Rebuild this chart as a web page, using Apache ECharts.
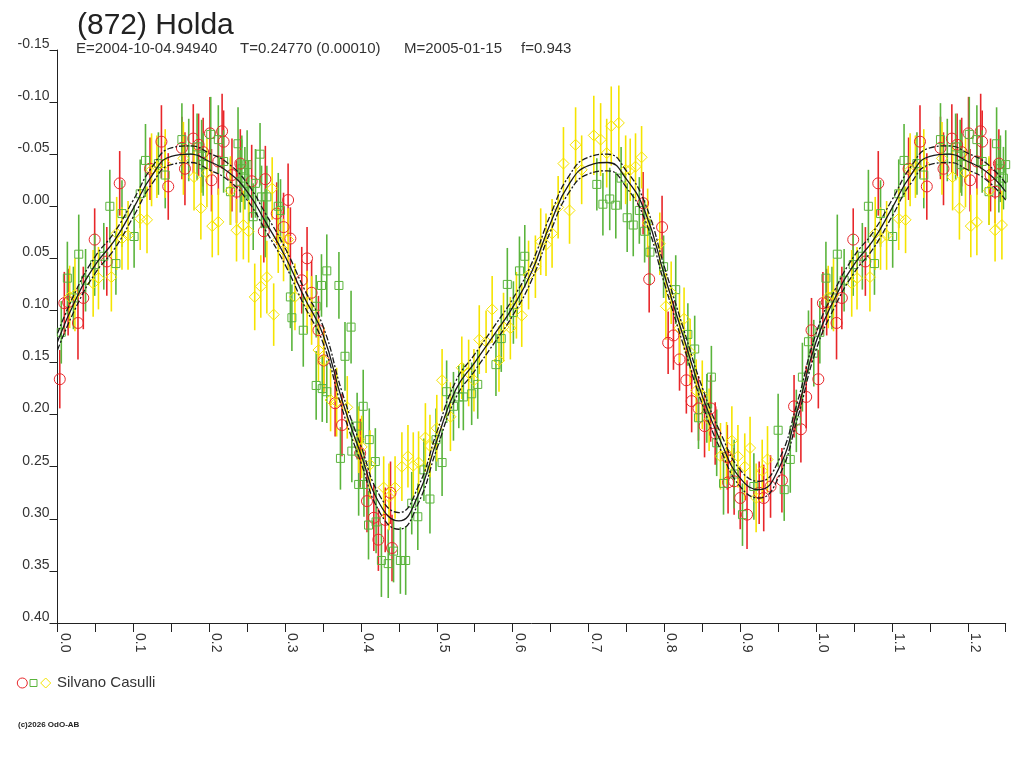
<!DOCTYPE html>
<html>
<head>
<meta charset="utf-8">
<title>(872) Holda</title>
<script src="https://cdn.jsdelivr.net/npm/echarts@6/dist/echarts.min.js"></script>
<style>
    html, body { margin: 0; padding: 0; background: #fff; }
    #main { width: 1024px; height: 768px; }
</style>
</head>
<body>
<div id="main"></div>
<script type="text/javascript">
    // observer: Silvano Casulli, three sessions [phase, mag, err]
    var redPts = [
        [0.003, 0.166, 0.028], [0.009, 0.093, 0.030], [0.014, 0.092, 0.032], [0.027, 0.112, 0.035],
        [0.034, 0.088, 0.030], [0.049, 0.032, 0.030], [0.065, 0.053, 0.033], [0.082, -0.022, 0.031],
        [0.122, -0.036, 0.030], [0.137, -0.062, 0.035], [0.146, -0.019, 0.032], [0.164, -0.056, 0.030],
        [0.168, -0.036, 0.035], [0.179, -0.065, 0.033], [0.186, -0.059, 0.030], [0.192, -0.052, 0.033],
        [0.201, -0.070, 0.035], [0.203, -0.025, 0.030], [0.212, -0.043, 0.032], [0.217, -0.072, 0.036],
        [0.219, -0.062, 0.030], [0.230, -0.030, 0.035], [0.236, -0.014, 0.030], [0.241, -0.041, 0.033],
        [0.256, -0.024, 0.035], [0.272, 0.024, 0.030], [0.274, -0.026, 0.032], [0.289, 0.007, 0.030],
        [0.298, 0.020, 0.033], [0.304, -0.006, 0.035], [0.307, 0.031, 0.030], [0.322, 0.071, 0.032],
        [0.329, 0.050, 0.030], [0.335, 0.083, 0.031], [0.344, 0.119, 0.033], [0.351, 0.148, 0.030],
        [0.366, 0.189, 0.032], [0.375, 0.210, 0.030], [0.399, 0.237, 0.033], [0.408, 0.283, 0.030],
        [0.417, 0.299, 0.032], [0.423, 0.320, 0.030], [0.432, 0.301, 0.031], [0.439, 0.275, 0.030],
        [0.441, 0.328, 0.032],
        [0.772, -0.003, 0.030], [0.780, 0.070, 0.032], [0.797, 0.020, 0.030], [0.805, 0.131, 0.030],
        [0.812, 0.124, 0.033], [0.820, 0.147, 0.030], [0.829, 0.167, 0.032], [0.836, 0.187, 0.030],
        [0.845, 0.194, 0.031], [0.853, 0.211, 0.030], [0.861, 0.194, 0.032], [0.867, 0.218, 0.030],
        [0.883, 0.241, 0.031], [0.884, 0.265, 0.030], [0.892, 0.264, 0.032], [0.900, 0.280, 0.030],
        [0.909, 0.296, 0.033], [0.925, 0.275, 0.030], [0.931, 0.280, 0.032], [0.940, 0.269, 0.030],
        [0.955, 0.263, 0.031], [0.971, 0.192, 0.030], [0.980, 0.214, 0.032], [0.987, 0.183, 0.030],
        [0.994, 0.119, 0.031]
    ];
    var greenPts = [
        [0.005, 0.121, 0.030], [0.013, 0.069, 0.035], [0.021, 0.088, 0.030], [0.028, 0.046, 0.038],
        [0.037, 0.071, 0.030], [0.049, 0.056, 0.030], [0.061, 0.048, 0.032], [0.069, 0.000, 0.035],
        [0.077, 0.055, 0.030], [0.085, 0.007, 0.032], [0.101, 0.029, 0.030], [0.109, -0.012, 0.033],
        [0.116, -0.044, 0.035], [0.133, -0.041, 0.030], [0.142, -0.030, 0.032], [0.164, -0.064, 0.035],
        [0.173, -0.054, 0.030], [0.184, -0.057, 0.032], [0.190, -0.048, 0.035], [0.192, -0.040, 0.030],
        [0.202, -0.069, 0.036], [0.212, -0.064, 0.033], [0.219, -0.043, 0.030], [0.228, -0.014, 0.032],
        [0.238, -0.060, 0.035], [0.241, -0.024, 0.030], [0.243, -0.036, 0.032], [0.247, -0.027, 0.030],
        [0.250, -0.040, 0.033], [0.252, -0.014, 0.030], [0.258, 0.010, 0.032], [0.261, -0.022, 0.033],
        [0.267, -0.050, 0.030], [0.269, -0.009, 0.030], [0.274, 0.016, 0.033], [0.276, -0.009, 0.030],
        [0.291, 0.000, 0.032], [0.294, 0.004, 0.030],
        [0.307, 0.087, 0.030], [0.309, 0.107, 0.032], [0.324, 0.119, 0.035], [0.341, 0.096, 0.030],
        [0.341, 0.172, 0.033], [0.348, 0.076, 0.030], [0.349, 0.175, 0.032], [0.355, 0.062, 0.035],
        [0.355, 0.178, 0.030], [0.371, 0.076, 0.032], [0.373, 0.242, 0.030], [0.379, 0.144, 0.033],
        [0.387, 0.116, 0.035], [0.388, 0.235, 0.030], [0.395, 0.211, 0.032], [0.397, 0.267, 0.030],
        [0.403, 0.192, 0.035], [0.404, 0.267, 0.031], [0.410, 0.306, 0.033], [0.411, 0.224, 0.030],
        [0.419, 0.245, 0.032], [0.420, 0.303, 0.030], [0.427, 0.340, 0.035], [0.436, 0.343, 0.033],
        [0.443, 0.331, 0.030], [0.452, 0.340, 0.032], [0.459, 0.340, 0.033], [0.467, 0.285, 0.030],
        [0.475, 0.298, 0.032], [0.483, 0.253, 0.030], [0.491, 0.281, 0.033], [0.499, 0.224, 0.030],
        [0.507, 0.246, 0.032], [0.513, 0.178, 0.030], [0.522, 0.192, 0.033], [0.529, 0.183, 0.030],
        [0.535, 0.183, 0.032], [0.546, 0.180, 0.030], [0.554, 0.171, 0.033], [0.578, 0.152, 0.030],
        [0.585, 0.127, 0.032], [0.593, 0.075, 0.035], [0.601, 0.102, 0.030], [0.609, 0.062, 0.033],
        [0.616, 0.048, 0.030], [0.711, -0.021, 0.025], [0.719, -0.002, 0.030], [0.728, -0.007, 0.030],
        [0.736, -0.001, 0.032], [0.743, -0.027, 0.030], [0.751, 0.011, 0.033], [0.759, 0.018, 0.030],
        [0.767, 0.004, 0.032], [0.774, 0.024, 0.030], [0.781, 0.044, 0.032], [0.799, 0.058, 0.030],
        [0.815, 0.080, 0.033], [0.831, 0.123, 0.030], [0.840, 0.137, 0.032], [0.845, 0.203, 0.030],
        [0.856, 0.194, 0.033], [0.862, 0.164, 0.030], [0.869, 0.227, 0.032], [0.878, 0.266, 0.030],
        [0.892, 0.257, 0.033], [0.903, 0.296, 0.030], [0.918, 0.269, 0.032], [0.950, 0.215, 0.035],
        [0.958, 0.272, 0.030], [0.966, 0.243, 0.032], [0.974, 0.206, 0.030], [0.982, 0.164, 0.033],
        [0.990, 0.130, 0.030], [0.997, 0.141, 0.032]
    ];
    var yellowPts = [
        [0.016, 0.087, 0.030], [0.023, 0.085, 0.035], [0.047, 0.074, 0.032], [0.054, 0.069, 0.030],
        [0.071, 0.068, 0.033], [0.078, 0.026, 0.035], [0.085, 0.031, 0.030], [0.093, 0.028, 0.033],
        [0.109, 0.012, 0.030], [0.118, 0.013, 0.032], [0.124, -0.035, 0.035], [0.131, -0.038, 0.030],
        [0.142, -0.041, 0.033], [0.166, -0.046, 0.035], [0.180, -0.028, 0.032], [0.189, 0.002, 0.030],
        [0.197, -0.032, 0.033], [0.204, 0.019, 0.030], [0.212, 0.015, 0.032], [0.228, -0.015, 0.033],
        [0.236, 0.023, 0.030], [0.245, 0.018, 0.033], [0.252, 0.024, 0.030], [0.260, 0.087, 0.032],
        [0.268, 0.077, 0.030], [0.276, 0.068, 0.035], [0.283, -0.017, 0.030], [0.285, 0.104, 0.030],
        [0.291, 0.032, 0.032], [0.298, 0.042, 0.030], [0.304, 0.032, 0.030], [0.313, 0.087, 0.032],
        [0.329, 0.092, 0.030], [0.335, 0.100, 0.033], [0.344, 0.138, 0.030], [0.351, 0.148, 0.032],
        [0.360, 0.186, 0.030], [0.368, 0.188, 0.033], [0.382, 0.193, 0.030], [0.397, 0.224, 0.032],
        [0.401, 0.231, 0.030], [0.412, 0.248, 0.033], [0.430, 0.270, 0.030], [0.437, 0.279, 0.032],
        [0.445, 0.270, 0.030], [0.454, 0.250, 0.033], [0.462, 0.240, 0.030], [0.469, 0.249, 0.032],
        [0.476, 0.246, 0.030], [0.485, 0.222, 0.033], [0.491, 0.230, 0.030], [0.500, 0.213, 0.032],
        [0.507, 0.167, 0.030], [0.518, 0.202, 0.033], [0.533, 0.155, 0.030], [0.542, 0.160, 0.032],
        [0.549, 0.167, 0.030], [0.556, 0.128, 0.033], [0.565, 0.130, 0.030], [0.573, 0.099, 0.032],
        [0.582, 0.148, 0.030], [0.588, 0.116, 0.033], [0.597, 0.117, 0.030], [0.605, 0.095, 0.032],
        [0.612, 0.105, 0.030], [0.621, 0.066, 0.033], [0.630, 0.058, 0.030], [0.637, 0.034, 0.032],
        [0.644, 0.037, 0.030], [0.652, 0.026, 0.033], [0.660, 0.001, 0.030], [0.667, -0.041, 0.035],
        [0.675, 0.004, 0.032], [0.683, -0.059, 0.036], [0.691, -0.035, 0.033], [0.707, -0.068, 0.038],
        [0.716, -0.064, 0.035], [0.724, -0.051, 0.033], [0.730, -0.077, 0.038], [0.740, -0.080, 0.036],
        [0.749, -0.035, 0.033], [0.755, -0.035, 0.030], [0.762, -0.038, 0.032], [0.770, -0.047, 0.030],
        [0.778, 0.016, 0.033], [0.794, 0.036, 0.030], [0.802, 0.096, 0.032], [0.809, 0.083, 0.030],
        [0.820, 0.117, 0.033], [0.826, 0.108, 0.030], [0.834, 0.140, 0.032], [0.842, 0.177, 0.030],
        [0.850, 0.181, 0.033], [0.859, 0.205, 0.030], [0.874, 0.240, 0.032], [0.882, 0.237, 0.030],
        [0.889, 0.225, 0.033], [0.897, 0.240, 0.030], [0.906, 0.250, 0.032], [0.913, 0.232, 0.030],
        [0.921, 0.280, 0.033], [0.929, 0.254, 0.030], [0.936, 0.243, 0.032]
    ];

    // fitted lightcurve and its band, read at every 0.025 in phase
    var curvePhase = [0.000, 0.025, 0.050, 0.075, 0.100, 0.125, 0.150, 0.175, 0.200, 0.225,
        0.250, 0.275, 0.300, 0.325, 0.350, 0.375, 0.400, 0.425, 0.450, 0.475,
        0.500, 0.525, 0.550, 0.575, 0.600, 0.625, 0.650, 0.675, 0.700, 0.725,
        0.750, 0.775, 0.800, 0.825, 0.850, 0.875, 0.900, 0.925, 0.950, 0.975, 1.000];
    var curveMid = [0.130, 0.088, 0.056, 0.033, 0.002, -0.030, -0.048, -0.050, -0.043, -0.033,
        -0.014, 0.016, 0.048, 0.087, 0.123, 0.186, 0.238, 0.286, 0.302, 0.278,
        0.225, 0.176, 0.150, 0.124, 0.097, 0.063, 0.016, -0.022, -0.039, -0.042,
        -0.026, 0.006, 0.066, 0.125, 0.182, 0.227, 0.261, 0.272, 0.253, 0.197, 0.130];
    var curveUp = [0.122, 0.080, 0.048, 0.025, -0.006, -0.038, -0.056, -0.058, -0.051, -0.041,
        -0.022, 0.008, 0.040, 0.079, 0.115, 0.178, 0.230, 0.278, 0.294, 0.270,
        0.217, 0.168, 0.142, 0.116, 0.089, 0.055, 0.008, -0.030, -0.047, -0.050,
        -0.034, -0.002, 0.058, 0.117, 0.174, 0.219, 0.253, 0.264, 0.245, 0.189, 0.122];
    var curveLow = [0.138, 0.096, 0.064, 0.041, 0.010, -0.022, -0.040, -0.042, -0.035, -0.025,
        -0.006, 0.024, 0.056, 0.095, 0.131, 0.194, 0.246, 0.294, 0.310, 0.286,
        0.233, 0.184, 0.158, 0.132, 0.105, 0.071, 0.024, -0.014, -0.031, -0.034,
        -0.018, 0.014, 0.074, 0.133, 0.190, 0.235, 0.269, 0.280, 0.261, 0.205, 0.138];

    var RED = '#e8262a', GREEN = '#5ab43c', YELLOW = '#f5e400';
    var FONT = '"Liberation Sans", Arial, sans-serif';

    // the plot shows one and a quarter cycles: phases up to 0.25 are repeated after 1.0
    function wrap(pts) {
        var extra = pts.filter(function (p) { return p[0] <= 0.25; })
            .map(function (p) { return [p[0] + 1, p[1], p[2]]; });
        return pts.concat(extra);
    }
    function curve(vals) {
        var out = [];
        for (var i = 0; i < curvePhase.length; i++) out.push([curvePhase[i], vals[i]]);
        for (var j = 1; j < curvePhase.length; j++) {
            if (curvePhase[j] <= 0.25) out.push([curvePhase[j] + 1, vals[j]]);
        }
        return out;
    }

    function bars(data, color) {
        return {
            type: 'custom', data: data, silent: true, z: 2,
            encode: { x: 0, y: 1 },
            renderItem: function (params, api) {
                var x = api.value(0), y = api.value(1), e = api.value(2);
                var a = api.coord([x, y - e]), b = api.coord([x, y + e]);
                return {
                    type: 'line',
                    shape: { x1: a[0], y1: a[1], x2: b[0], y2: b[1] },
                    style: { stroke: color, lineWidth: 1.6 }
                };
            }
        };
    }
    function marks(data, color, symbol, size) {
        return {
            type: 'scatter', data: data, symbol: symbol, symbolSize: size, silent: true, z: 3,
            itemStyle: { color: 'rgba(0,0,0,0)', borderColor: color, borderWidth: 1, opacity: 1 }
        };
    }
    function fitLine(vals, dashed) {
        return {
            type: 'line', data: curve(vals), smooth: 0.5, symbol: 'none', silent: true, z: 5,
            lineStyle: { color: '#1a1a1a', width: 1.3, type: dashed ? [6, 2, 2, 2] : 'solid' }
        };
    }

    var red = wrap(redPts), green = wrap(greenPts), yellow = wrap(yellowPts);

    var chart = echarts.init(document.getElementById('main'));
    var option = {
        backgroundColor: '#fff',
        animation: false,
        textStyle: { fontFamily: FONT },
        title: {
            text: '(872) Holda', left: 72, top: 6,
            textStyle: { fontSize: 30, fontWeight: 'normal', color: '#222', fontFamily: FONT }
        },
        grid: { left: 57.5, right: 18.3, top: 50, bottom: 145, containLabel: false },
        xAxis: {
            type: 'value', min: 0, max: 1.25, interval: 0.05,
            axisLine: { onZero: false, lineStyle: { color: '#222', width: 1 } },
            axisTick: { length: 9, lineStyle: { color: '#222' } },
            splitLine: { show: false },
            axisLabel: {
                rotate: -90, margin: 10, fontSize: 14, color: '#333', fontFamily: FONT,
                align: 'left', verticalAlign: 'bottom', showMinLabel: true, showMaxLabel: true,
                formatter: function (v) {
                    return Math.round(v * 100) % 10 === 0 ? v.toFixed(1) : '';
                }
            }
        },
        yAxis: {
            type: 'value', inverse: true, min: -0.15, max: 0.40, interval: 0.05,
            axisLine: { show: true, onZero: false, lineStyle: { color: '#222', width: 1 } },
            axisTick: { show: true, length: 8, lineStyle: { color: '#222' } },
            splitLine: { show: false },
            axisLabel: {
                margin: 8, fontSize: 14, color: '#333', fontFamily: FONT, verticalAlign: 'bottom',
                lineHeight: 12,
                formatter: function (v) { return v.toFixed(2); }
            }
        },
        graphic: [
            { type: 'text', left: 76, top: 41, style: { text: 'E=2004-10-04.94940', fontSize: 15, fill: '#333', fontFamily: FONT } },
            { type: 'text', left: 240, top: 41, style: { text: 'T=0.24770 (0.00010)', fontSize: 15, fill: '#333', fontFamily: FONT } },
            { type: 'text', left: 404, top: 41, style: { text: 'M=2005-01-15', fontSize: 15, fill: '#333', fontFamily: FONT } },
            { type: 'text', left: 521, top: 41, style: { text: 'f=0.943', fontSize: 15, fill: '#333', fontFamily: FONT } },
            { type: 'circle', shape: { cx: 22.3, cy: 683, r: 5 }, style: { fill: 'none', stroke: RED, lineWidth: 1 } },
            { type: 'rect', shape: { x: 30, y: 679.5, width: 7, height: 7 }, style: { fill: 'none', stroke: GREEN, lineWidth: 1 } },
            { type: 'polygon', shape: { points: [[45.7, 678], [50.7, 683], [45.7, 688], [40.7, 683]] }, style: { fill: 'none', stroke: YELLOW, lineWidth: 1 } },
            { type: 'text', left: 57, top: 675, style: { text: 'Silvano Casulli', fontSize: 15, fill: '#333', fontFamily: FONT } },
            { type: 'text', left: 18, top: 721, style: { text: '(c)2026 OdO-AB', fontSize: 8, fontWeight: 'bold', fill: '#222', fontFamily: FONT } }
        ],
        series: [
            bars(red, RED), bars(green, GREEN), bars(yellow, YELLOW),
            marks(red, RED, 'circle', 11),
            marks(green, GREEN, 'rect', 8),
            marks(yellow, YELLOW, 'diamond', [11, 11]),
            fitLine(curveUp, true), fitLine(curveMid, false), fitLine(curveLow, true)
        ]
    };
    chart.setOption(option);
</script>
</body>
</html>
